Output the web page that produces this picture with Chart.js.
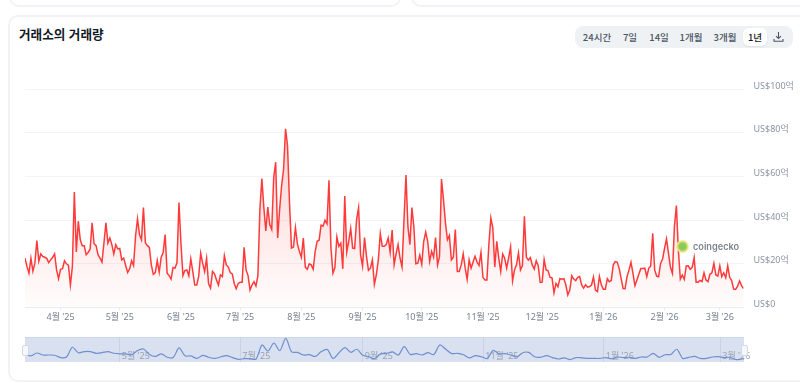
<!DOCTYPE html>
<html lang="ko">
<head>
<meta charset="UTF-8">
<title>거래소의 거래량</title>
<script src="https://cdn.jsdelivr.net/npm/chart.js"></script>
<style>
    html, body { margin: 0; padding: 0; background: #fff; overflow: hidden; }
    body { width: 800px; height: 383px; position: relative; font-family: 'Noto Sans CJK KR', 'Noto Sans', sans-serif; }
    .card { position: absolute; border: 2px solid #f1f3f7; border-radius: 10px; background: #fff; box-sizing: border-box; }
    h1 { position: absolute; left: 19px; top: 24px; margin: 0; font-size: 12.6px; line-height: 19px; font-weight: 700; color: #111827; }
    #range { position: absolute; left: 575px; top: 26px; width: 218px; height: 22px; background: #eff2f5; border-radius: 8px; }
    #range span { position: absolute; top: 0; line-height: 22px; font-size: 9.5px; font-weight: 500; color: #4b5563; transform: translateX(-50%); white-space: nowrap; }
    #range .active { top: 2px; line-height: 18px; width: 24px; text-align: center; background: #fff; border-radius: 6px; color: #111827; box-shadow: 0 1px 2px rgba(0,0,0,.08); }
    #range svg { position: absolute; left: 198px; top: 5px; }
    canvas { position: absolute; left: 0; }
    #main { top: 0; }
    #nav { top: 330px; }
    #navbg { position: absolute; left: 25px; top: 337px; width: 719px; height: 25px; background: #d9e0f0; border-top: 1px solid #cfd7ea; box-sizing: border-box; }
    .handle { position: absolute; top: 345px; width: 5px; height: 9px; background: #f6f7fa; border: 1px solid #d5d9e2; border-radius: 2px; }
    #logo { position: absolute; left: 676px; top: 240px; width: 13px; height: 13px; border-radius: 50%; background: radial-gradient(circle, #8ec95a 0 35%, #f3ec8c 62%, rgba(246,239,154,.35) 100%); }
    #mark { position: absolute; left: 693px; top: 239px; line-height: 16px; font-family: 'Inter', sans-serif; font-size: 9.2px; font-weight: 600; color: #7d838c; }
</style>
</head>
<body>
<div class="card" style="left:9px;top:-30px;width:392px;height:37px"></div>
<div class="card" style="left:411px;top:-30px;width:420px;height:37px"></div>
<div class="card" style="left:8px;top:15px;width:830px;height:367px"></div>

<h1>거래소의 거래량</h1>
<div id="range">
    <span style="left:22px">24시간</span>
    <span style="left:55px">7일</span>
    <span style="left:84px">14일</span>
    <span style="left:116px">1개월</span>
    <span style="left:150px">3개월</span>
    <span class="active" style="left:180px">1년</span>
    <svg width="11" height="12" viewBox="0 0 11 12" fill="none" stroke="#4b5563" stroke-width="1.1">
        <path d="M5.5 1v6.5M3 5.2l2.5 2.4L8 5.2M1 8v2.2h9V8"/>
    </svg>
</div>

<div id="navbg"></div>
<canvas id="main" width="800" height="330"></canvas>
<canvas id="nav" width="800" height="50"></canvas>
<div class="handle" style="left:22px"></div>
<div class="handle" style="left:741px"></div>

<div id="logo"></div>
<div id="mark">coingecko</div>

<script>
// daily volume, in 억 USD (14 Mar 2025 to 13 Mar 2026)
var volumes = [
    22.6,18.8,15.7,22.5,16.6,20.3,30.6,21.2,24.5,23.4,23,22.5,20.6,21.8,23,24.6,17.2,13.2,17.5,17.8,
    21.4,20,19.4,10.3,18.8,52.9,25.4,39.5,31,28.3,28.3,24.2,25.2,26.8,38.8,29.2,28.3,24.2,22.6,20.8,
    29.5,38.8,29.5,31.8,28.8,24.5,28.8,26.8,27,21.8,22.6,19.2,16,17.7,21.4,19.2,32.6,40.6,33.4,31,
    45.7,29.5,28.3,27.5,19.5,15.2,16,21.5,16.2,23,25.2,33.4,15.7,14.6,13,18.3,18,20.6,48,29.5,
    14.6,16.9,17.2,14.5,22.2,16.5,10.3,10.3,14.2,24.9,20.3,16.5,22.5,10.8,8.9,16.5,15.4,12.6,10.3,14.9,
    14.2,23.7,19.5,18.5,16,15.4,11,8.6,11,11.5,11.5,27.5,17.2,14.6,8,10.3,11.8,9.8,14.6,44.9,
    59,45.7,35,46,
    38,35.7,59.5,66.5,31.8,44.9,55.7,63.4,81.8,74,48,27.2,27.7,36.5,29.2,25.7,23,31.8,18.5,17.5,
    20,19.5,17.5,25.7,30.3,30.8,37.7,37.2,40,38.3,58.2,27.2,15.7,18.3,32.3,28,29.5,17.7,51,25.4,
    30.3,36.2,27.2,27,40.3,45.7,24.2,19,32,23.4,17,18,21.8,10.6,15,21.8,33.8,28,28,28.8,
    31.8,25.2,35.4,19.5,24.5,28.8,22.6,18.5,40,60.6,37,28.8,45.7,37,20,20.3,24,19.8,30.3,34.5,
    30.3,21,25.7,23,32,19.5,23.4,58.8,49.5,38.8,31,33,21.8,23,35.7,16.5,16.5,19.5,24.6,18,
    12.9,21.8,18,20.8,23.4,20.8,19.2,25.2,13.8,12.6,12.6,28.8,41,36.5,18.5,30.3,22.6,16.5,24.5,22.6,
    18,22.6,27.7,12.2,17.2,19.5,25,17.2,19.2,41.8,
    23,21.7,22.8,19.5,17.6,21.4,19.1,11.5,11.6,22,17.2,16.8,13.8,13.6,6.7,11,9.5,13.3,12.9,13.2,
    10.3,5.8,8,14.5,13,12.3,13.8,14.2,10.3,8.9,10.4,9.3,9.6,10.3,13.9,8,7.3,14.2,10.3,8.4,
    8.4,13.2,11.8,12.3,19.4,21,20.8,17.9,13.3,8.7,8.6,14.1,17.2,20.7,15.6,10,12.6,15.3,17.9,17.9,
    18,14.1,17.9,19,34,17.2,14.4,14.1,20.2,22.2,27,31.4,24.8,18.4,15.6,37,46.7,26.3,13,14.9,
    12.9,19,19.1,17.5,18.4,22.8,11.6,11.6,12.4,11.9,15.9,12.6,11.8,15.2,15.9,20.2,14.9,14.4,19.1,14.1,
    15.9,13.6,19.1,13.8,12.3,8.4,8.3,9.8,12.1,10,8.7
];
// the navigator strip has its own coarser line, one value per 3 days
var navVolumes = [
    24,19,29,22,22,21,13,15,49,30,34,34,28,30,34,28,26,26,23,38,
    43,24,17,26,14,13,47,19,19,10,21,14,10,15,20,13,7,9,9,8,
    57,36,64,37,80,33,31,22,23,17,34,41,10,30,48,31,42,21,16,9,
    26,27,33,22,51,24,27,22,30,24,57,42,27,28,23,12,20,16,10,38,
    26,27,22,15,30,31,16,14,20,13,8,12,6,13,12,10,10,10,13,9,
    15,13,14,10,15,15,28,14,23,24,42,10,14,17,10,10,15,16,13,14,
    6,8,9
];
var monthDays = [18, 48, 79, 109, 140, 171, 201, 232, 262, 293, 324, 352];
var monthLabels = ["4월 '25", "5월 '25", "6월 '25", "7월 '25", "8월 '25", "9월 '25", "10월 '25", "11월 '25", "12월 '25", "1월 '26", "2월 '26", "3월 '26"];
var navDays = [48, 109, 171, 232, 293, 352];
var navLabels = ["5월 '25", "7월 '25", "9월 '25", "11월 '25", "1월 '26", "3월 '26"];
var yTicks = [0, 20, 40, 60, 80, 100];

var lastDay = volumes.length - 1;
var font = "'Noto Sans', 'Noto Sans CJK KR', sans-serif";

new Chart(document.getElementById("main"), {
    type: "line",
    data: {
        datasets: [{
            data: volumes.map(function (v, i) { return { x: i, y: v }; }),
            borderColor: "#ff3a3a",
            borderWidth: 1.5,
            pointRadius: 0,
            tension: 0,
            fill: "start",
            backgroundColor: function (ctx) {
                var area = ctx.chart.chartArea;
                if (!area) return "transparent";
                var g = ctx.chart.ctx.createLinearGradient(0, 130, 0, area.bottom);
                g.addColorStop(0, "rgba(255,58,58,0.24)");
                g.addColorStop(1, "rgba(255,58,58,0.01)");
                return g;
            },
        }],
    },
    options: {
        responsive: false,
        animation: false,
        layout: { padding: { left: 25, top: 89 } },
        plugins: { legend: { display: false }, tooltip: { enabled: false } },
        scales: {
            x: {
                type: "linear",
                min: 0,
                max: lastDay,
                afterBuildTicks: function (s) { s.ticks = monthDays.map(function (d) { return { value: d }; }); },
                afterFit: function (s) { s.height = 22.5; },
                grid: { drawOnChartArea: false, color: "#e6e9ef", tickLength: 3 },
                border: { color: "#e9ecf1" },
                ticks: {
                    autoSkip: false,
                    maxRotation: 0,
                    padding: 2,
                    color: "#76808f",
                    font: { family: font, size: 9 },
                    callback: function (v, i) { return monthLabels[i]; },
                },
            },
            y: {
                position: "right",
                min: 0,
                max: 100,
                afterBuildTicks: function (s) { s.ticks = yTicks.map(function (t) { return { value: t }; }); },
                afterFit: function (s) { s.width = 56.5; },
                grid: { color: "#f3f4f7", tickLength: 0 },
                border: { display: false },
                ticks: {
                    padding: 10,
                    labelOffset: -3,
                    color: "#8b94a3",
                    font: { family: font, size: 9 },
                    callback: function (v) { return "US$" + v + (v ? "억" : ""); },
                },
            },
        },
    },
});

// the navigator labels sit inside the strip, under the line
var navLabelsPlugin = {
    id: "navLabels",
    beforeDatasetsDraw: function (chart) {
        var c = chart.ctx;
        c.save();
        c.font = "9px " + font;
        c.fillStyle = "#9aa3b4";
        c.textBaseline = "middle";
        navDays.forEach(function (d, i) {
            c.fillText(navLabels[i], chart.scales.x.getPixelForValue(d) + 2, chart.chartArea.bottom - 6);
        });
        c.restore();
    },
};

new Chart(document.getElementById("nav"), {
    type: "line",
    data: {
        datasets: [{
            data: navVolumes.map(function (v, i) { return { x: i * 3, y: v }; }),
            borderColor: "#6f8fd0",
            borderWidth: 1.2,
            pointRadius: 0,
            tension: 0.3,
        }],
    },
    plugins: [navLabelsPlugin],
    options: {
        responsive: false,
        animation: false,
        layout: { padding: { left: 25, right: 56, top: 7 } },
        plugins: { legend: { display: false }, tooltip: { enabled: false } },
        scales: {
            x: {
                type: "linear",
                min: 0,
                max: lastDay,
                afterBuildTicks: function (s) { s.ticks = navDays.map(function (d) { return { value: d }; }); },
                afterFit: function (s) { s.height = 18; },
                grid: { color: "#c9d2e6", tickLength: 0 },
                border: { display: false },
                ticks: { display: false },
            },
            y: { display: false, min: -2.5, max: 85 },
        },
    },
});
</script>
</body>
</html>
